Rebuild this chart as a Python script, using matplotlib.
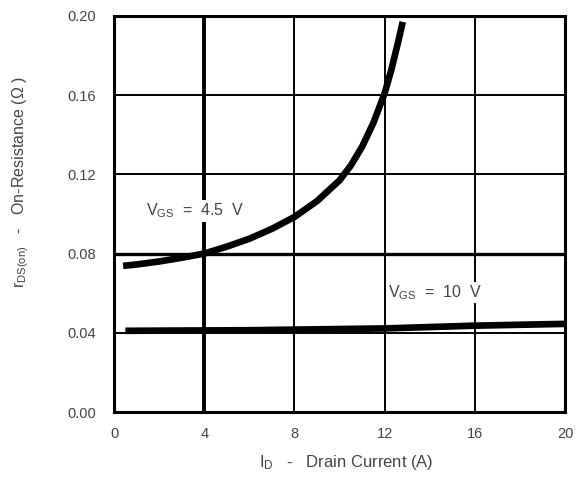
import matplotlib
matplotlib.use("Agg")
import matplotlib.pyplot as plt

plt.rcParams["font.family"] = ["Liberation Sans", "DejaVu Sans"]
plt.rcParams["mathtext.fontset"] = "custom"
plt.rcParams["mathtext.rm"] = "Liberation Sans"
plt.rcParams["mathtext.it"] = "Liberation Sans"

# Data
id_45 = [0.4, 1, 2, 3, 4, 5, 6, 7, 8, 9, 10, 10.5, 11, 11.5, 12, 12.3, 12.6, 12.8]
r_45 = [0.0738, 0.0745, 0.076, 0.0779, 0.080, 0.0835, 0.0875, 0.0925, 0.0985, 0.1065, 0.117, 0.1245, 0.134, 0.146, 0.161, 0.173, 0.187, 0.197]
id_10 = [0.5, 6, 12, 16, 20]
r_10 = [0.0410, 0.0413, 0.0422, 0.0436, 0.0445]
x_ticks = [0, 4, 8, 12, 16, 20]
y_ticks = [0.00, 0.04, 0.08, 0.12, 0.16, 0.20]
y_tick_labels = ["0.00", "0.04", "0.08", "0.12", "0.16", "0.20"]

fig = plt.figure(figsize=(5.79, 4.97), dpi=100)
ax = fig.add_axes([0.197, 0.171, 0.779, 0.797])
ax.set_xlim(0, 20)
ax.set_ylim(0, 0.20)
ax.set_xticks(x_ticks)
ax.set_yticks(y_ticks)
ax.set_yticklabels(y_tick_labels)
ax.tick_params(axis="y", length=0, pad=13, labelsize=10.5, labelcolor="#444444")
ax.tick_params(axis="x", length=0, pad=11, labelsize=10.5, labelcolor="#444444")

for x in x_ticks[1:-1]:
    ax.axvline(x, color="black", lw=2.8 if x == 4 else 1.4, zorder=1)
for y in y_ticks[1:-1]:
    ax.axhline(y, color="black", lw=2.4 if abs(y - 0.08) < 1e-9 else 1.4, zorder=1)
for s in ax.spines.values():
    s.set_linewidth(2.2)

ax.plot(id_45, r_45, color="black", lw=4.8, solid_capstyle="butt", zorder=3)
ax.plot(id_10, r_10, color="black", lw=4.8, solid_capstyle="butt", zorder=3)

ax.text(1.4, 0.1015, r"V$_{\mathregular{GS}}$  =  4.5  V", fontsize=11.5, color="#444444",
        ha="left", va="center", zorder=4,
        bbox=dict(facecolor="white", edgecolor="none", pad=1))
ax.text(12.15, 0.0603, r"V$_{\mathregular{GS}}$  =  10  V", fontsize=11.5, color="#444444",
        ha="left", va="center", zorder=4,
        bbox=dict(facecolor="white", edgecolor="none", pad=1))

fig.text(0.598, 0.07, r"I$_{\mathregular{D}}$   -   Drain Current (A)", fontsize=12,
         color="#444444", ha="center", va="center")
fig.text(0.036, 0.634, r"r$_{\mathregular{DS(on)}}$   -   On-Resistance ($\Omega$ )", fontsize=11.5,
         color="#444444", ha="center", va="center", rotation=90)

fig.savefig("out.png", dpi=100)
